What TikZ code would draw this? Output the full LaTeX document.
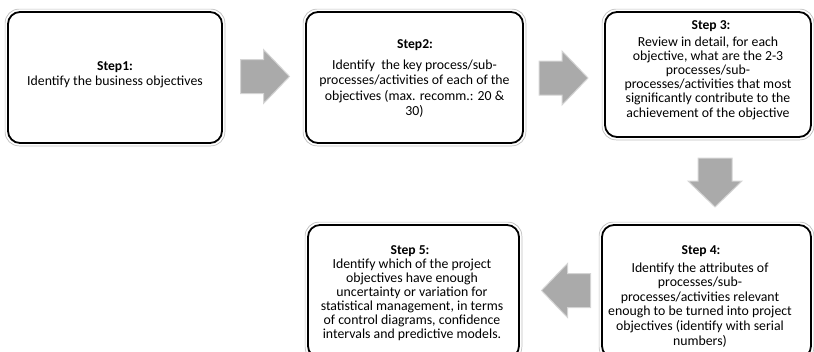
\documentclass[tikz,border=0pt]{standalone}
\usepackage{fontspec}
\setmainfont{Carlito}
\usetikzlibrary{calc}
\definecolor{arrowgray}{RGB}{170,170,170}
\definecolor{arrowedge}{RGB}{212,212,212}
\definecolor{haloGray}{RGB}{190,190,190}
\begin{document}
\begin{tikzpicture}[x=1pt,y=-1pt,
  stepbox/.style={draw=black, line width=1.8pt, rounded corners=12pt, fill=white, inner sep=0pt},
  halo/.style={draw=haloGray, line width=0.7pt, rounded corners=14pt},
  head/.style={font=\fontsize{13.6}{14}\selectfont\bfseries, inner sep=0pt, anchor=base},
  body/.style={align=center, inner sep=0pt, anchor=base},
  blockarrow/.pic={
    \filldraw[fill=arrowgray, draw=arrowedge, line width=1pt]
      (-24.5pt,-17pt) -- (-1.5pt,-17pt) -- (-1.5pt,-27pt) -- (24.5pt,0pt)
      -- (-1.5pt,27pt) -- (-1.5pt,17pt) -- (-24.5pt,17pt) -- cycle;
  }]
\useasboundingbox (0,0) rectangle (814,351);
\clip (0,0) rectangle (814,351);

% step boxes
\node[stepbox, minimum width=214pt, minimum height=131pt] (b1) at (115,77.5) {};
\node[stepbox, minimum width=217pt, minimum height=131pt] (b2) at (414.5,77.5) {};
\node[stepbox, minimum width=206pt, minimum height=125pt] (b3) at (708,74.5) {};
\node[stepbox, minimum width=209pt, minimum height=133pt] (b4) at (706.5,291.5) {};
\node[stepbox, minimum width=211pt, minimum height=133pt] (b5) at (413.5,291.5) {};

\foreach \b in {b1,b2,b3,b4,b5}
  \draw[halo] ($(\b.north west)+(-2pt,2pt)$) rectangle ($(\b.south east)+(2pt,-2pt)$);

% texts (body nodes placed by the baseline of their last line)
\node[head] (h1) at (115,70) {Step1:};
\node[body, font=\fontsize{13.8}{14}\selectfont] (t1) at (115,85) {Identify the business objectives};

\node[head] (h2) at (415,48) {Step2:};
\node[body, font=\fontsize{13.8}{15.5}\selectfont] (t2) at (414.5,115.5)
  {Identify\ \ the key process/sub-\\processes/activities of each of the\\objectives (max. recomm.: 20 \&\\30)};

\node[head] (h3) at (711,29.5) {Step 3:};
\node[body, font=\fontsize{13.8}{14.2}\selectfont] (t3) at (708,117)
  {Review in detail, for each\\objective, what are the 2-3\\processes/sub-\\processes/activities that most\\significantly contribute to the\\achievement of the objective};

\node[head] (h4) at (701,254) {Step 4:};
\node[body, font=\fontsize{13.8}{14.6}\selectfont] (t4) at (700,345)
  {Identify the attributes of\\processes/sub-\\processes/activities relevant\\enough to be turned into project\\objectives (identify with serial\\numbers)};

\node[head] (h5) at (410,254) {Step 5:};
\node[body, font=\fontsize{13.8}{14}\selectfont] (t5) at (412,338)
  {Identify which of the project\\objectives have enough\\uncertainty or variation for\\statistical management, in terms\\of control diagrams, confidence\\intervals and predictive models.};

% block arrows between the steps
\pic at (265,76.5) {blockarrow};
\pic at (563.5,78) {blockarrow};
\pic[rotate=-90] at (715,182.5) {blockarrow};
\pic[rotate=180] at (566,290.5) {blockarrow};
\end{tikzpicture}
\end{document}
